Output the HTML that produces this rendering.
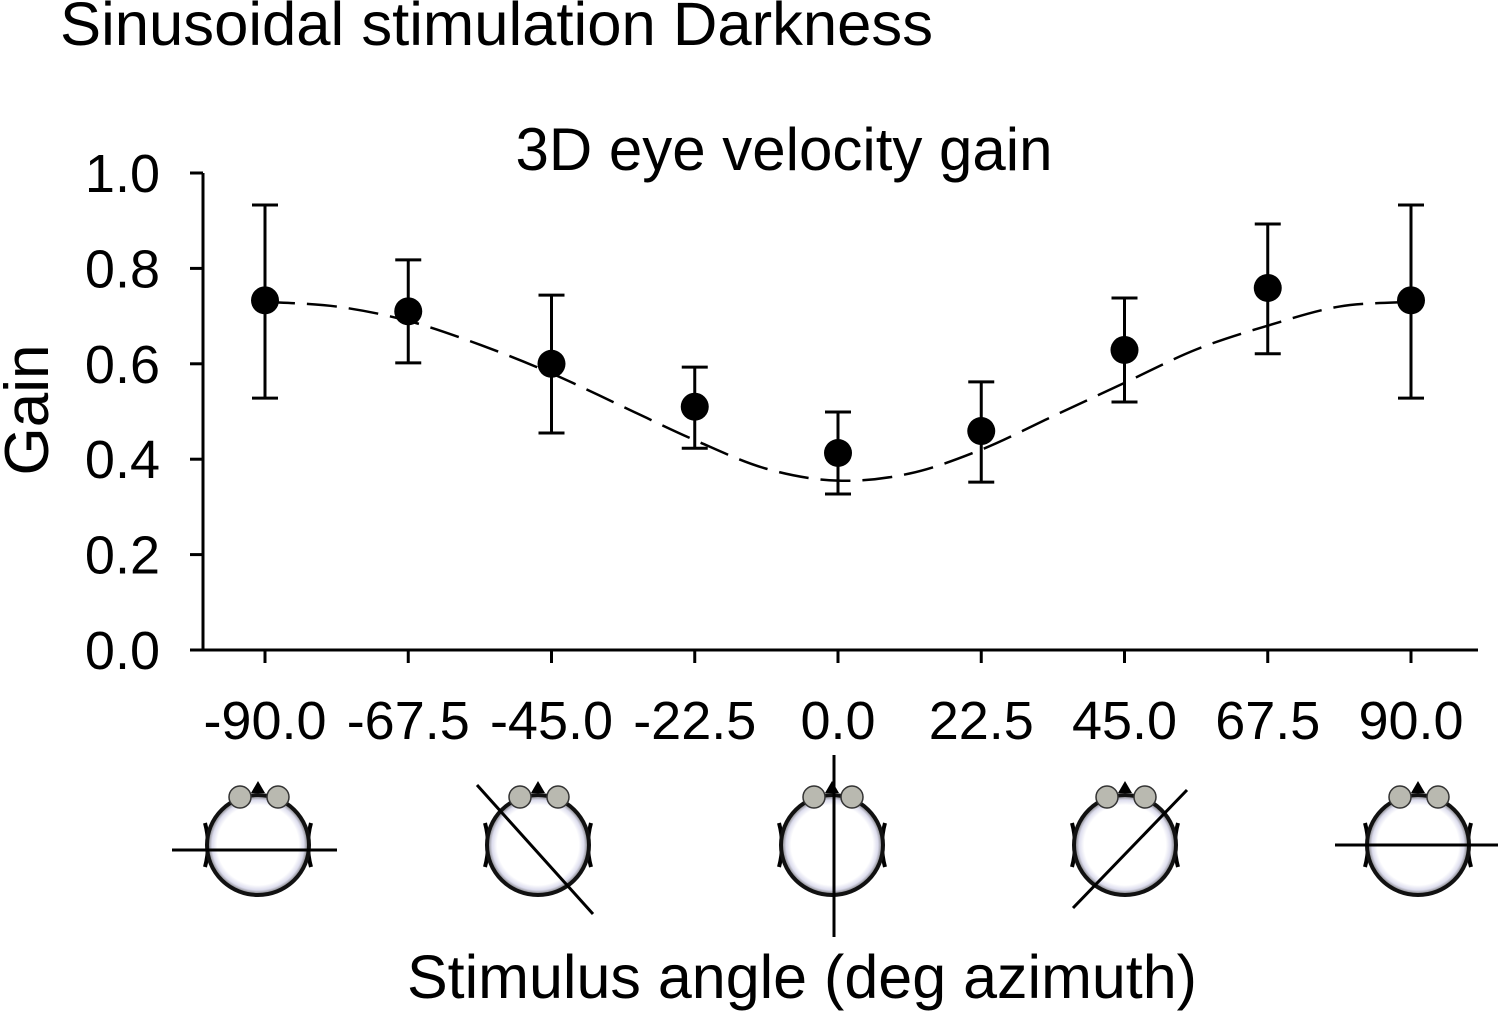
<!DOCTYPE html>
<html><head><meta charset="utf-8"><style>
body{margin:0;background:#fff}
svg{display:block}
text{font-family:"Liberation Sans",Arial,sans-serif;fill:#000}
</style></head><body>
<svg id="chart" width="1500" height="1011" viewBox="0 0 1500 1011">
<defs>
<radialGradient id="hg" cx="50%" cy="50%" r="50%">
<stop offset="80%" stop-color="#fff"/><stop offset="90%" stop-color="#dde"/><stop offset="100%" stop-color="#666"/>
</radialGradient>
<g id="head">
<path d="M-53,-22 Q-47,0 -53,22" stroke="#000" stroke-width="4" fill="none"/>
<path d="M53,-22 Q47,0 53,22" stroke="#000" stroke-width="4" fill="none"/>
<ellipse cx="0" cy="0" rx="51" ry="50" fill="url(#hg)" stroke="#111" stroke-width="4"/>
<path d="M-7,-52 L0,-64 L7,-52 Z" fill="#000"/>
<circle cx="-18" cy="-48" r="11" fill="#b9b9b0" stroke="#333" stroke-width="1.5"/>
<circle cx="20" cy="-48" r="11" fill="#b9b9b0" stroke="#333" stroke-width="1.5"/>
</g>
</defs>
<text x="60" y="45" font-size="61" textLength="873" lengthAdjust="spacingAndGlyphs">Sinusoidal stimulation Darkness</text>
<text x="784" y="170" font-size="60" text-anchor="middle">3D eye velocity gain</text>
<text transform="translate(48,410) rotate(-90)" font-size="62" text-anchor="middle">Gain</text>
<text x="802" y="998" font-size="61" text-anchor="middle">Stimulus angle (deg azimuth)</text>
<g id="axes"></g>
<g id="marks"></g>
<g>
<use href="#head" x="258" y="845"/><line x1="172" y1="850" x2="337" y2="850" stroke="#000" stroke-width="3"/>
<use href="#head" x="538" y="845"/><line x1="477" y1="785" x2="593" y2="914" stroke="#000" stroke-width="3"/>
<use href="#head" x="832" y="845"/><line x1="834" y1="755" x2="834" y2="937" stroke="#000" stroke-width="3"/>
<use href="#head" x="1125" y="845"/><line x1="1187" y1="790" x2="1073" y2="908" stroke="#000" stroke-width="3"/>
<use href="#head" x="1418" y="845"/><line x1="1335" y1="845" x2="1498" y2="845" stroke="#000" stroke-width="3"/>
</g>
</svg>
<script>
const angles=[-90,-67.5,-45,-22.5,0,22.5,45,67.5,90];
const gains=[0.733,0.71,0.60,0.51,0.413,0.459,0.629,0.759,0.733];
const errHigh=[0.933,0.818,0.744,0.593,0.499,0.562,0.738,0.893,0.933];
const errLow=[0.528,0.602,0.455,0.423,0.327,0.352,0.520,0.621,0.528];
const fitAngles=[-90,-78.75,-67.5,-56.25,-45,-33.75,-22.5,-11.25,0,11.25,22.5,33.75,45,56.25,67.5,78.75,90];
const fitValues=[0.73,0.72,0.69,0.64,0.58,0.51,0.44,0.38,0.355,0.37,0.42,0.49,0.56,0.63,0.68,0.72,0.73];
const yTicks=[0,0.2,0.4,0.6,0.8,1.0];
const xTickLabels=["-90.0","-67.5","-45.0","-22.5","0.0","22.5","45.0","67.5","90.0"];
const NS="http://www.w3.org/2000/svg";
const xs=a=>265+(a+90)*(1411-265)/180;
const ys=v=>650-v*477;
function mk(t,at,parent){const e=document.createElementNS(NS,t);for(const k in at)e.setAttribute(k,at[k]);parent.appendChild(e);return e;}
const ax=document.getElementById('axes'),mg=document.getElementById('marks');
let e=mk('line',{x1:203,y1:173,x2:203,y2:650,stroke:'#000','stroke-width':3},ax);


e=mk('line',{x1:203,y1:650,x2:1478,y2:650,stroke:'#000','stroke-width':3},ax);


yTicks.forEach(v=>{mk('line',{x1:190,y1:ys(v),x2:203,y2:ys(v),stroke:'#000','stroke-width':3},ax);
const t=mk('text',{x:160,y:ys(v)+19,'font-size':54,'text-anchor':'end'},ax);t.textContent=v.toFixed(1);

});
angles.forEach((a,i)=>{mk('line',{x1:xs(a),y1:650,x2:xs(a),y2:663,stroke:'#000','stroke-width':3},ax);
const t=mk('text',{x:xs(a),y:739,'font-size':54,'text-anchor':'middle'},ax);t.textContent=xTickLabels[i];

});
// smooth path via Catmull-Rom
const P=fitAngles.map((a,i)=>[xs(a),ys(fitValues[i])]);
let d='M'+P[0][0]+','+P[0][1];
for(let i=0;i<P.length-1;i++){const p0=P[Math.max(0,i-1)],p1=P[i],p2=P[i+1],p3=P[Math.min(P.length-1,i+2)];
d+='C'+(p1[0]+(p2[0]-p0[0])/6)+','+(p1[1]+(p2[1]-p0[1])/6)+' '+(p2[0]-(p3[0]-p1[0])/6)+','+(p2[1]-(p3[1]-p1[1])/6)+' '+p2[0]+','+p2[1];}
const fit=mk('path',{d:d,fill:'none',stroke:'#000','stroke-width':2.5,'stroke-dasharray':'30,12'},mg);


angles.forEach((a,i)=>{const x=xs(a);
const g=mk('g',{},mg);


mk('line',{x1:x,y1:ys(errHigh[i]),x2:x,y2:ys(errLow[i]),stroke:'#000','stroke-width':3},g);
mk('line',{x1:x-13,y1:ys(errHigh[i]),x2:x+13,y2:ys(errHigh[i]),stroke:'#000','stroke-width':3},g);
mk('line',{x1:x-13,y1:ys(errLow[i]),x2:x+13,y2:ys(errLow[i]),stroke:'#000','stroke-width':3},g);
mk('circle',{cx:x,cy:ys(gains[i]),r:14,fill:'#000'},g);});
</script>
</body></html>
